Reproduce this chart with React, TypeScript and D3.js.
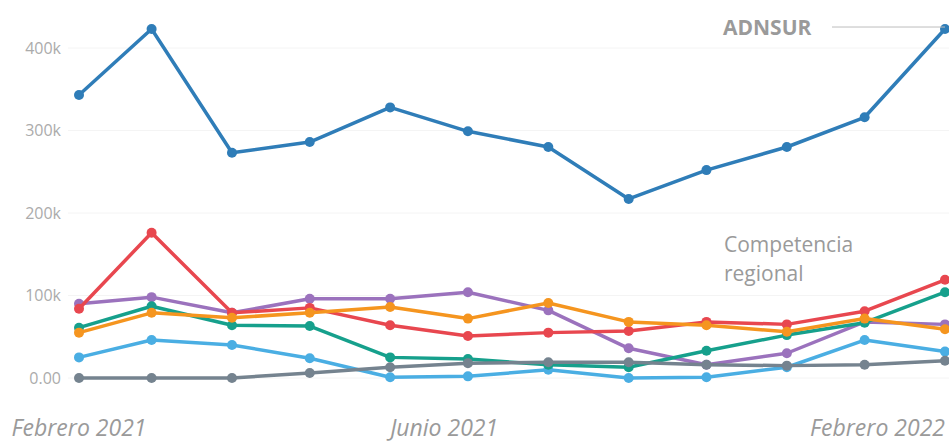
import React, { useRef, useEffect } from 'react';
import * as d3 from 'd3';

// monthly readings, Feb 2021 .. Jan 2022
const months = ['2021-02', '2021-03', '2021-04', '2021-05', '2021-06', '2021-07', '2021-08', '2021-09', '2021-10', '2021-11', '2021-12', '2022-01'];

const adnsur = [343, 423, 273, 286, 328, 299, 280, 217, 252, 280, 316, 423];
const rojo = [84, 176, 79, 85, 64, 51, 55, 57, 68, 65, 81, 119];
const violeta = [90, 98, 79, 96, 96, 104, 82, 36, 16, 30, 68, 65];
const verde = [61, 87, 64, 63, 25, 23, 16, 13, 33, 52, 67, 104];
const naranja = [55, 79, 73, 79, 86, 72, 91, 68, 64, 56, 72, 59];
const celeste = [25, 46, 40, 24, 1, 2, 10, 0, 1, 13, 46, 32];
const gris = [0, 0, 0, 6, 13, 18, 19, 19, 16, 15, 16, 21];

const yTicks = [0, 100, 200, 300, 400];
const xLabels = [
  { month: '2021-02', text: 'Febrero 2021', anchor: 'middle' },
  { month: '2021-06', text: 'Junio 2021', anchor: 'start' },
  { month: '2022-01', text: 'Febrero 2022', anchor: 'end' },
];

const W = 949;
const H = 443;

const App: React.FC = () => {
  const svgRef = useRef<SVGSVGElement>(null);

  useEffect(() => {
    if (!svgRef.current) return;
    const svg = d3.select(svgRef.current);
    svg.selectAll('*').remove();

    const parse = d3.timeParse('%Y-%m');
    const dates = months.map((m) => parse(m) as Date);

    const x = d3.scaleTime()
      .domain(d3.extent(dates) as [Date, Date])
      .range([79, 945]);

    const y = d3.scaleLinear()
      .domain([0, 400])
      .range([378, 48]);

    // faint gridlines
    svg.append('g')
      .selectAll('line')
      .data(yTicks)
      .join('line')
      .attr('x1', 68)
      .attr('x2', W)
      .attr('y1', (d) => y(d))
      .attr('y2', (d) => y(d))
      .attr('stroke', '#f4f4f4')
      .attr('stroke-width', 1);

    svg.append('g')
      .selectAll('text')
      .data(yTicks)
      .join('text')
      .attr('x', 61)
      .attr('y', (d) => y(d))
      .attr('dy', '0.35em')
      .attr('text-anchor', 'end')
      .attr('fill', '#ababab')
      .style('font-family', '"Open Sans", sans-serif')
      .style('font-size', '16px')
      .text((d) => (d === 0 ? '0.00' : `${d}k`));

    svg.append('g')
      .selectAll('text')
      .data(xLabels)
      .join('text')
      .attr('x', (d) => x(parse(d.month) as Date))
      .attr('y', 436)
      .attr('text-anchor', (d) => d.anchor)
      .attr('fill', '#9a9a9a')
      .style('font-family', '"Open Sans", sans-serif')
      .style('font-style', 'italic')
      .style('font-size', '23px')
      .text((d) => d.text);

    const series = [
      { values: violeta, color: '#9b72bd' },
      { values: celeste, color: '#4aaee3' },
      { values: verde, color: '#16a08c' },
      { values: gris, color: '#75838f' },
      { values: rojo, color: '#e8474f' },
      { values: naranja, color: '#f5951f' },
      { values: adnsur, color: '#2f7db8' },
    ];

    const line = d3.line<number>()
      .x((_, i) => x(dates[i]))
      .y((d) => y(d));

    series.forEach(({ values, color }) => {
      const g = svg.append('g');
      g.append('path')
        .datum(values)
        .attr('fill', 'none')
        .attr('stroke', color)
        .attr('stroke-width', 3.5)
        .attr('stroke-linejoin', 'round')
        .attr('d', line);
      g.selectAll('circle')
        .data(values)
        .join('circle')
        .attr('cx', (_, i) => x(dates[i]))
        .attr('cy', (d) => y(d))
        .attr('r', 5)
        .attr('fill', color);
    });

    // annotations
    const last = dates.length - 1;
    svg.append('line')
      .attr('x1', 832)
      .attr('x2', x(dates[last]))
      .attr('y1', y(adnsur[last]) - 2)
      .attr('y2', y(adnsur[last]) - 2)
      .attr('stroke', '#bdbdbd')
      .attr('stroke-width', 1);

    svg.append('text')
      .attr('x', 723)
      .attr('y', 35)
      .attr('fill', '#9a9a9a')
      .style('font-family', '"Open Sans", sans-serif')
      .style('font-weight', 'bold')
      .style('font-size', '21px')
      .text('ADNSUR');

    const comp = svg.append('text')
      .attr('x', 724)
      .attr('y', 252)
      .attr('fill', '#9a9a9a')
      .style('font-family', '"Open Sans", sans-serif')
      .style('font-size', '21px');
    comp.append('tspan').attr('x', 724).text('Competencia');
    comp.append('tspan').attr('x', 724).attr('dy', 29).text('regional');
  }, []);

  return (
    <div style={{ position: 'absolute', left: 0, top: 0 }}>
      <svg ref={svgRef} width={W} height={H} style={{ display: 'block', background: '#fff' }}></svg>
    </div>
  );
};

export default App;
